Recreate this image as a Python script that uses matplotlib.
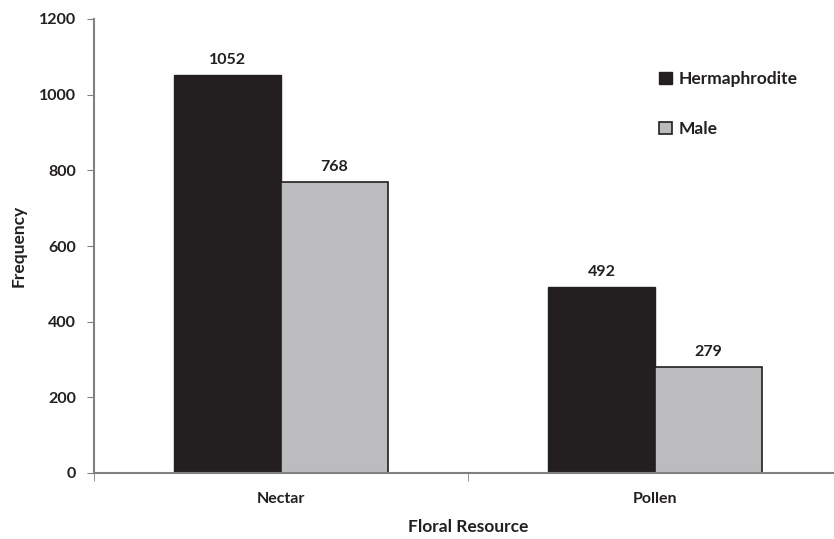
import numpy as np
import matplotlib.pyplot as plt

plt.rcParams['font.family'] = ['Lato', 'DejaVu Sans']
plt.rcParams['font.weight'] = 'bold'

categories = ['Nectar', 'Pollen']
series_names = ['Hermaphrodite', 'Male']
hermaphrodite = [1052, 492]
male = [768, 279]
yticks = [0, 200, 400, 600, 800, 1000, 1200]

fig = plt.figure(figsize=(8.34, 5.39), dpi=100)
ax = fig.add_axes([94 / 834, 1 - 473 / 539, (842 - 94) / 834, (473 - 19) / 539])

x = np.arange(len(categories))
w = 0.286
b1 = ax.bar(x - w / 2, hermaphrodite, w, color='#231f20', edgecolor='#231f20',
            linewidth=1, label=series_names[0])
b2 = ax.bar(x + w / 2, male, w, color='#bcbcbe', edgecolor='#231f20',
            linewidth=1.2, label=series_names[1])

for bars, vals in ((b1, hermaphrodite), (b2, male)):
    for r, v in zip(bars, vals):
        ax.text(r.get_x() + r.get_width() / 2, v + 22, str(v), ha='center',
                va='bottom', fontsize=11.5, fontweight='bold', color='#231f20')

ax.set_xlim(-0.5, 1.5)
ax.set_ylim(0, 1200)
ax.set_yticks(yticks)
ax.set_xticks(x)
ax.set_xticklabels(categories)
ax.set_xticks([-0.5, 0.5, 1.5], minor=True)
ax.tick_params(axis='x', which='major', length=0, pad=14)
ax.tick_params(axis='x', which='minor', length=6, color='#808080')
ax.tick_params(axis='y', length=5, color='#808080', pad=8)
for lab in ax.get_xticklabels() + ax.get_yticklabels():
    lab.set_fontsize(11.5)
    lab.set_fontweight('bold')
    lab.set_color('#231f20')

for s in ['top', 'right']:
    ax.spines[s].set_visible(False)
for s in ['left', 'bottom']:
    ax.spines[s].set_color('#808080')
    ax.spines[s].set_linewidth(1.5)

ax.set_xlabel('Floral Resource', fontsize=12.5, fontweight='bold', color='#231f20', labelpad=9)
ax.set_ylabel('Frequency', fontsize=12.5, fontweight='bold', color='#231f20', labelpad=9)

leg = ax.legend(loc='upper left', bbox_to_anchor=(0.735, 0.92), frameon=False,
                fontsize=12.5, handlelength=0.7, handleheight=0.7, labelspacing=1.95,
                handletextpad=0.4)
for t in leg.get_texts():
    t.set_fontweight('bold')
    t.set_color('#231f20')

fig.savefig('out.png', dpi=100)
